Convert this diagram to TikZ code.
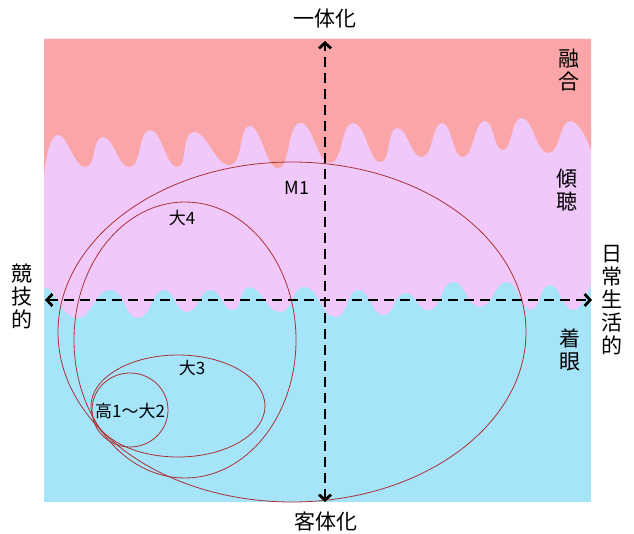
\documentclass[tikz,border=0pt]{standalone}
\usepackage{fontspec}
\setmainfont{Noto Sans CJK JP}
\usetikzlibrary{arrows.meta}
\definecolor{cred}{RGB}{250,166,168}
\definecolor{cpink}{RGB}{241,200,250}
\definecolor{cblue}{RGB}{166,228,250}
\definecolor{cell}{RGB}{170,50,50}
\tikzset{
  axis/.style={line width=2.8pt, dash pattern=on 10pt off 6pt, {Straight Barb[length=5.5pt,width=12pt]}-{Straight Barb[length=5.5pt,width=12pt]}},
  ell/.style={draw=cell, line width=0.8pt},
  biglab/.style={font=\fontsize{21pt}{23pt}\selectfont, inner sep=0pt, align=center},
  smalllab/.style={font=\fontsize{17pt}{19pt}\selectfont, inner sep=0pt},
}
\begin{document}
\begin{tikzpicture}[x=1pt,y=-1pt]
\useasboundingbox (0,0) rectangle (634,534);
% background regions
\fill[cblue] (44,39) rectangle (591,502);
\fill[cpink] (44,39) -- (44,293) -- plot[smooth,tension=0.9] coordinates {
 (44,293) (50,290) (77,318) (110,290) (138,318) (163,290) (187,312) (210,290) (233,310) (250,287) (280,312) (305,287) (335,317) (358,290) (383,315) (405,293) (430,310) (453,282) (480,307) (507,282) (530,310) (550,285) (573,310) (591,283)}
 -- (591,39) -- cycle;
\fill[cred] (44,39) -- (44,177) -- plot[smooth,tension=0.9] coordinates {
 (44,177) (57,135) (85,167) (103,137) (130,167) (150,130) (177,167) (194,132) (230,165) (250,126) (278,168) (300,123) (330,163) (353,123) (380,162) (397,128) (422,157) (442,123) (463,157) (484,121) (503,150) (522,118) (548,153) (570,121) (591,150)}
 -- (591,39) -- cycle;
% ellipses
\draw[ell] (292,332) ellipse [x radius=234pt, y radius=170pt];
\draw[ell] (185,340) ellipse [x radius=111pt, y radius=138pt];
\draw[ell] (178,406) ellipse [x radius=87pt, y radius=51pt];
\draw[ell] (130,410) ellipse [x radius=38pt, y radius=37pt];
% axes
\coordinate (axT) at (325,41);
\coordinate (axB) at (325,502);
\coordinate (axL) at (45,300);
\coordinate (axR) at (592,300);
\draw[axis] (axB) -- (axT);
\draw[axis] (axL) -- (axR);
% labels
\node[biglab] (top) at (325,19) {一体化};
\node[biglab] (bot) at (326,522) {客体化};
\node[biglab] (left) at (22,296) {競\\技\\的};
\node[biglab] (right) at (612,300) {日\\常\\生\\活\\的};
\node[biglab] (fuse) at (569,70) {融\\合};
\node[biglab] (listen) at (567,190) {傾\\聴};
\node[biglab] (focus) at (570,350) {着\\眼};
\node[smalllab, font=\fontsize{18pt}{20pt}\selectfont] (m1) at (297,188) {M1};
\node[smalllab] (d4) at (182,218) {大4};
\node[smalllab] (d3) at (192,368) {大3};
\node[smalllab] (d12) at (130,411) {高1～大2};
\end{tikzpicture}
\end{document}
